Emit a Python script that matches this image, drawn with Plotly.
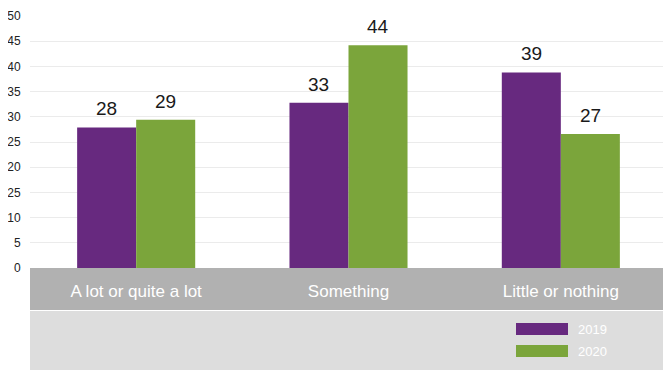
import plotly.graph_objects as go

categories = ["A lot or quite a lot", "Something", "Little or nothing"]
series_names = ["2019", "2020"]
values_2019 = [27.9, 32.8, 38.8]
values_2020 = [29.4, 44.2, 26.6]
y_tick_vals = [0, 5, 10, 15, 20, 25, 30, 35, 40, 45, 50]
y_tick_text = ["0", "5", "10", "25", "20", "25", "30", "35", "40", "45", "50"]

colors = {"2019": "#67297f", "2020": "#7ba53b"}

# the page body adds an 8px margin; margins are chosen so the plot lands
# at the intended window position
OFF = 8
WIN_W, WIN_H = 671, 370
W, H = WIN_W, WIN_H
PLOT_L, PLOT_R, PLOT_T, PLOT_B = 30, 667, 16, 268  # window pixel coords
ML, MR, MT, MB = PLOT_L - OFF, W - (PLOT_R - OFF), PLOT_T - OFF, H - (PLOT_B - OFF)
PW, PH = W - ML - MR, H - MT - MB
FONT = "Liberation Sans, Arial, sans-serif"


def px_x(x):
    return (x - PLOT_L) / PW


def px_y(y):
    return (PLOT_B - y) / PH


fig = go.Figure()
for name, vals in zip(series_names, [values_2019, values_2020]):
    fig.add_trace(go.Bar(
        x=categories, y=vals, name=name,
        marker=dict(color=colors[name], line=dict(width=0)),
        showlegend=False,
    ))

bar_px = PW / len(categories) * 0.278
annotations = []
for i, (name, vals) in enumerate(zip(series_names, [values_2019, values_2020])):
    shift = (i - 0.5) * bar_px
    for c, v in zip(categories, vals):
        annotations.append(dict(xref="x", yref="y", x=c, y=v, text=str(round(v)),
                                showarrow=False, xanchor="center", yanchor="bottom",
                                xshift=shift, yshift=6,
                                font=dict(size=19, color="#1a1a1a", family=FONT)))

shapes = [
    dict(type="rect", xref="paper", yref="paper", layer="below",
         x0=px_x(30), x1=px_x(685), y0=px_y(268), y1=px_y(310),
         fillcolor="#b1b1b1", line=dict(width=0)),
    dict(type="rect", xref="paper", yref="paper", layer="below",
         x0=px_x(30), x1=px_x(685), y0=px_y(311), y1=px_y(385),
         fillcolor="#dddddd", line=dict(width=0)),
]
leg_rows = [(323, 335), (345, 357)]
for name, (t, b) in zip(series_names, leg_rows):
    shapes.append(dict(type="rect", xref="paper", yref="paper",
                       x0=px_x(516), x1=px_x(568), y0=px_y(t), y1=px_y(b),
                       fillcolor=colors[name], line=dict(width=0)))
    annotations.append(dict(xref="paper", yref="paper", x=px_x(576), y=px_y((t + b) / 2),
                            text=name, showarrow=False, xanchor="left", yanchor="middle",
                            font=dict(size=13, color="white", family=FONT)))

fig.update_layout(
    width=W, height=H,
    margin=dict(l=ML, r=MR, t=MT, b=MB, pad=0, autoexpand=False),
    paper_bgcolor="white", plot_bgcolor="white",
    barmode="group", bargap=0.444, bargroupgap=0,
    font=dict(family=FONT),
    shapes=shapes, annotations=annotations,
    xaxis=dict(showgrid=False, showline=False, zeroline=False, automargin=False,
               ticks="outside", ticklen=8, tickcolor="rgba(0,0,0,0)",
               tickfont=dict(size=17, color="white", family=FONT)),
    yaxis=dict(range=[0, 50], tickvals=y_tick_vals, ticktext=y_tick_text,
               showgrid=True, gridcolor="#ebebeb", gridwidth=1,
               zeroline=False, showline=False, automargin=False,
               ticks="outside", ticklen=6, tickcolor="rgba(0,0,0,0)",
               tickfont=dict(size=12, color="#222222", family=FONT)),
)

fig.write_html("out.html")
